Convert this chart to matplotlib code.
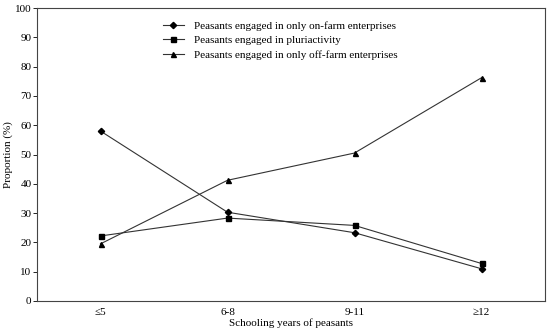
import numpy as np
import matplotlib.pyplot as plt

plt.rcParams['font.family'] = ['Liberation Serif', 'DejaVu Serif']

# donnees
categories = ['≤5', '6-8', '9-11', '≥12']
on_farm = [58.0, 30.3, 23.3, 11.0]
pluri = [22.2, 28.3, 25.8, 12.8]
off_farm = [19.5, 41.2, 50.5, 76.2]

x = np.arange(len(categories))

fig = plt.figure(figsize=(5.5, 3.35), dpi=100)
ax = fig.add_axes([37/550, 34/335, 508/550, 293/335])

col = '#333333'
ax.plot(x, on_farm, color=col, lw=0.8, marker='D', ms=3.2, mfc='black', mec='black',
        label='Peasants engaged in only on-farm enterprises')
ax.plot(x, pluri, color=col, lw=0.8, marker='s', ms=3.6, mfc='black', mec='black',
        label='Peasants engaged in pluriactivity')
ax.plot(x, off_farm, color=col, lw=0.8, marker='^', ms=3.6, mfc='black', mec='black',
        label='Peasants engaged in only off-farm enterprises')

ax.set_xlim(-0.5, 3.5)
ax.set_ylim(0, 100)
ax.set_yticks(range(0, 101, 10))
ax.set_xticks(x)
ax.set_xticklabels(categories)
ax.tick_params(axis='x', length=0, labelsize=8, pad=5)
ax.tick_params(axis='y', length=3, width=0.6, labelsize=8, pad=1)
for s in ax.spines.values():
    s.set_linewidth(0.8)
    s.set_color('#444444')

ax.set_xlabel('Schooling years of peasants', fontsize=8, labelpad=1)
ax.set_ylabel('Proportion (%)', fontsize=8, labelpad=1)

ax.legend(loc='upper left', bbox_to_anchor=(0.228, 0.99), frameon=False, fontsize=8,
          handlelength=1.9, labelspacing=0.42, handletextpad=0.9)

fig.savefig('out.png', dpi=100)
